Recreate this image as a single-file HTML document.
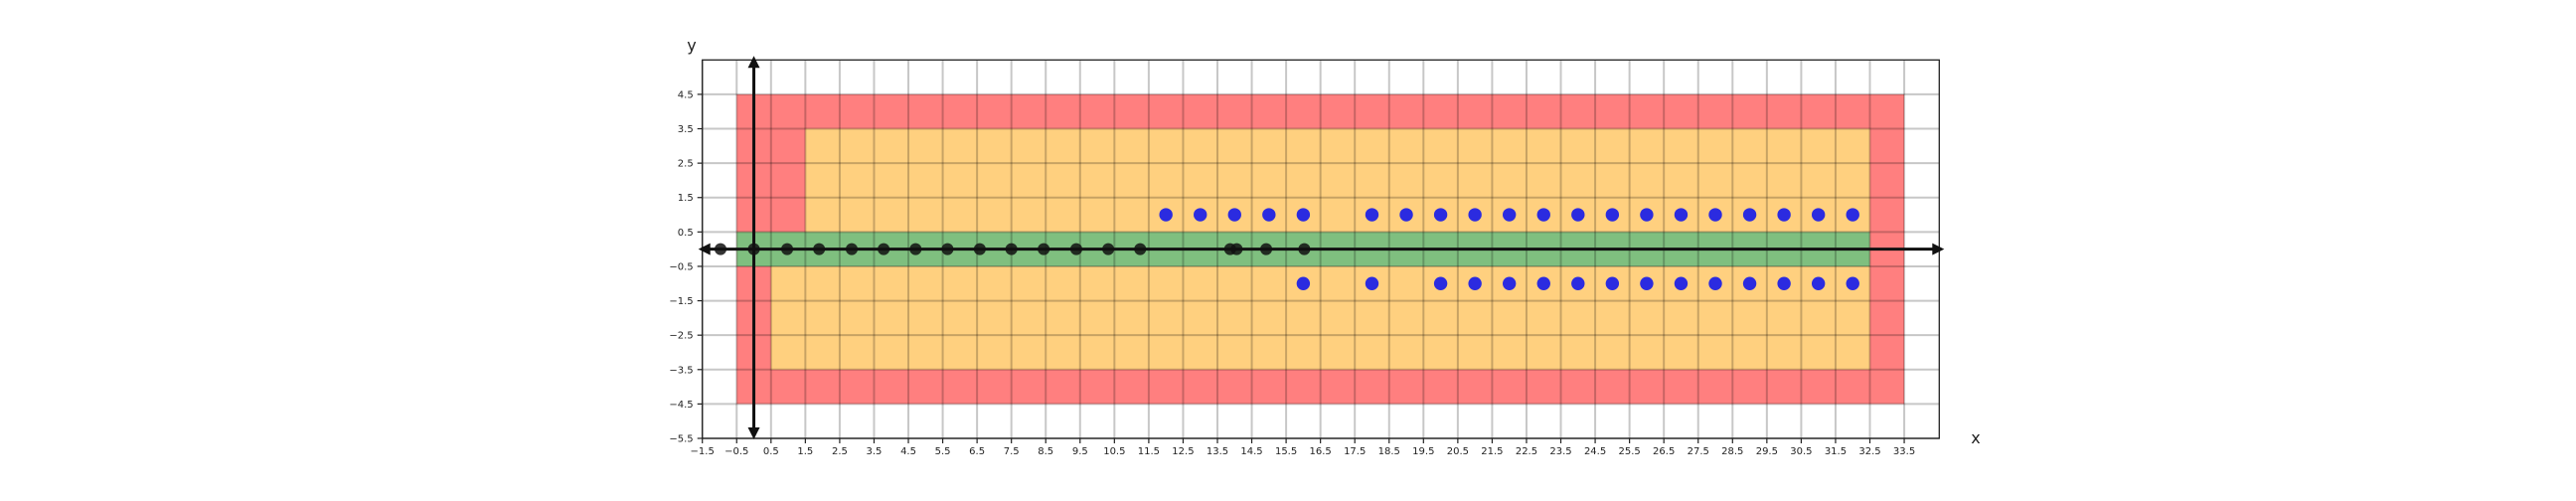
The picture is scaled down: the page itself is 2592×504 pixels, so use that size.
<!DOCTYPE html>
<html><head><meta charset="utf-8"><style>
html,body{margin:0;padding:0;background:#fff;}
svg{display:block;font-family:"DejaVu Sans","Liberation Sans",sans-serif;}
</style></head><body>
<svg id="chart" width="2592" height="504" viewBox="0 0 2592 504"></svg>
<script>
const xTicks=[-1.5,-0.5,0.5,1.5,2.5,3.5,4.5,5.5,6.5,7.5,8.5,9.5,10.5,11.5,12.5,13.5,14.5,15.5,16.5,17.5,18.5,19.5,20.5,21.5,22.5,23.5,24.5,25.5,26.5,27.5,28.5,29.5,30.5,31.5,32.5,33.5];
const yTicks=[-5.5,-4.5,-3.5,-2.5,-1.5,-0.5,0.5,1.5,2.5,3.5,4.5];
const blackX=[-0.97,0,0.97,1.9,2.85,3.78,4.71,5.64,6.58,7.5,8.44,9.39,10.32,11.25,13.87,14.06,14.92,16.03];
const blueTopX=[12,13,14,15,16,18,19,20,21,22,23,24,25,26,27,28,29,30,31,32];
const blueBottomX=[16,18,20,21,22,23,24,25,26,27,28,29,30,31,32];
const regionNames=['red-zone','orange-zone-top','orange-zone-bottom','green-band'];
const regionX0=[-0.5,1.5,0.5,-0.5];
const regionX1=[33.5,32.5,32.5,32.5];
const regionY0=[-4.5,0.5,-3.5,-0.5];
const regionY1=[4.5,3.5,-0.5,0.5];
const regionFill=['#ff7f7f','#ffd07f','#ffd07f','#7fbf7f'];

const XMIN=-1.5,XMAX=34.52,YMIN=-5.5,YMAX=5.5;
const L=706.7,R=1951.3,T=60.3,B=441;
const xs=v=>L+(v-XMIN)*(R-L)/(XMAX-XMIN);
const ys=v=>B-(v-YMIN)*(B-T)/(YMAX-YMIN);
const svg=document.getElementById('chart');
const NS='http://www.w3.org/2000/svg';
function mk(tag,attrs,parent){const e=document.createElementNS(NS,tag);for(const k in attrs)e.setAttribute(k,attrs[k]);(parent||svg).appendChild(e);return e;}

for(let i=0;i<regionNames.length;i++){
  const r=mk('rect',{x:xs(regionX0[i]),y:ys(regionY1[i]),width:xs(regionX1[i])-xs(regionX0[i]),height:ys(regionY0[i])-ys(regionY1[i]),fill:regionFill[i]});
  
  
}
const grid=mk('g',{stroke:'rgba(0,0,0,0.22)','stroke-width':2});


xTicks.forEach(t=>mk('line',{x1:xs(t),x2:xs(t),y1:T,y2:B},grid));
yTicks.forEach(t=>mk('line',{x1:L,x2:R,y1:ys(t),y2:ys(t)},grid));

const frame=mk('rect',{x:L,y:T,width:R-L,height:B-T,fill:'none',stroke:'#222','stroke-width':1.3});



const xt=mk('g',{'font-size':10,fill:'#222','text-anchor':'middle'});


xTicks.forEach(t=>{mk('line',{x1:xs(t),x2:xs(t),y1:B,y2:B+5,stroke:'#222','stroke-width':1.2},xt);const tx=mk('text',{x:xs(t),y:B+16},xt);tx.textContent=String(t).replace('-','\u2212');});
const yt=mk('g',{'font-size':10,fill:'#222','text-anchor':'end'});


yTicks.forEach(t=>{mk('line',{x1:L-5,x2:L,y1:ys(t),y2:ys(t),stroke:'#222','stroke-width':1.2},yt);const tx=mk('text',{x:L-9,y:ys(t)+3.5},yt);tx.textContent=String(t).replace('-','\u2212');});

const ax=mk('g',{stroke:'#111','stroke-width':3});


const y0=ys(0),x0=xs(0);
mk('line',{x1:L+6,x2:R-4,y1:y0,y2:y0},ax);
mk('line',{x1:x0,x2:x0,y1:T+6,y2:B-6},ax);
mk('polygon',{points:`${L-4},${y0} ${L+8},${y0-6} ${L+8},${y0+6}`,fill:'#111',stroke:'none'},ax);
mk('polygon',{points:`${R+5},${y0} ${R-7},${y0-6} ${R-7},${y0+6}`,fill:'#111',stroke:'none'},ax);
mk('polygon',{points:`${x0},${T-4} ${x0-6},${T+8} ${x0+6},${T+8}`,fill:'#111',stroke:'none'},ax);
mk('polygon',{points:`${x0},${B+1} ${x0-6},${B-11} ${x0+6},${B-11}`,fill:'#111',stroke:'none'},ax);

blackX.forEach(v=>{const c=mk('circle',{cx:xs(v),cy:ys(0),r:6,fill:'rgba(17,17,17,0.85)'});
  
  });
blueTopX.forEach(v=>{const c=mk('circle',{cx:xs(v),cy:ys(1),r:6.7,fill:'#2b2be0'});
  
  });
blueBottomX.forEach(v=>{const c=mk('circle',{cx:xs(v),cy:ys(-1),r:6.7,fill:'#2b2be0'});
  
  });

const xl=mk('text',{x:1988,y:446,'font-size':16,fill:'#222','text-anchor':'middle'});xl.textContent='x';


const yl=mk('text',{x:696,y:51,'font-size':16,fill:'#222','text-anchor':'middle'});yl.textContent='y';


</script>
</body></html>
